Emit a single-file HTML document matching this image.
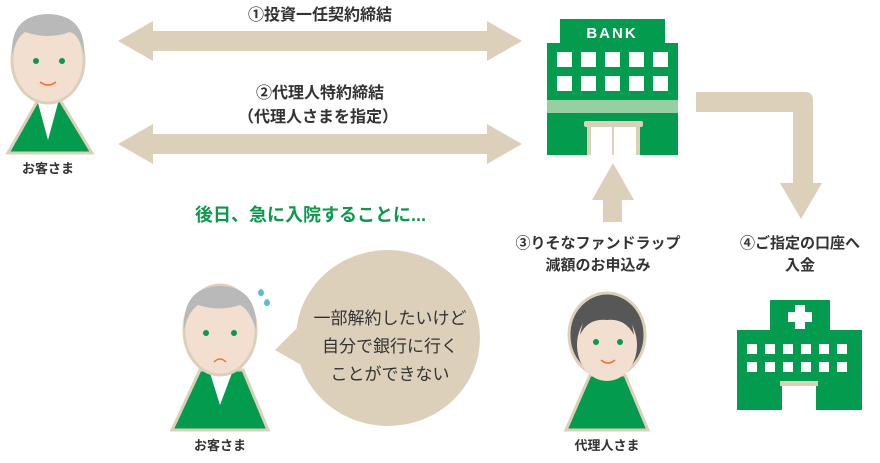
<!DOCTYPE html>
<html><head><meta charset="utf-8"><style>
body{margin:0;background:#fff;width:880px;height:458px;overflow:hidden}
svg text{font-family:"Liberation Sans","Noto Sans CJK JP",sans-serif;font-weight:bold}
</style></head><body>
<svg width="880" height="458" viewBox="0 0 880 458" xmlns="http://www.w3.org/2000/svg">
<g fill="#ddd0bb">
<polygon points="118,41 153,21 153,31 487,31 487,21 522,41 487,61 487,51 153,51 153,61"/>
<polygon points="118,144 153,124 153,134 487,134 487,124 522,144 487,164 487,154 153,154 153,164"/>
<path d="M696,92 H805 Q813,92 813,100 V183 H822 L801,219 L780,183 H793 V112 H696 Z"/>
<polygon points="603,222 603,200 592,200 613,163 634,200 622,200 622,222"/>
<ellipse cx="388" cy="338" rx="92" ry="88"/>
<polygon points="275,350 305,320 310,370"/>
</g>
<text x="320" y="20" font-size="16" text-anchor="middle" fill="#333">①投資一任契約締結</text>
<text x="320" y="98" font-size="16" text-anchor="middle" fill="#333">②代理人特約締結</text>
<text x="318" y="122" font-size="16" text-anchor="middle" fill="#333">（代理人さまを指定）</text>
<text x="195" y="221" font-size="18" fill="#0a9a4a">後日、急に入院することに...</text>
<text x="598" y="248" font-size="15" text-anchor="middle" fill="#333">③りそなファンドラップ</text>
<text x="598" y="270" font-size="15" text-anchor="middle" fill="#333">減額のお申込み</text>
<text x="800" y="248" font-size="15" text-anchor="middle" fill="#333">④ご指定の口座へ</text>
<text x="800" y="270" font-size="15" text-anchor="middle" fill="#333">入金</text>
<g font-size="17" fill="#333" text-anchor="middle">
<text x="390" y="324" style="font-weight:normal">一部解約したいけど</text>
<text x="390" y="352" style="font-weight:normal">自分で銀行に行く</text>
<text x="390" y="380" style="font-weight:normal">ことができない</text>
</g>
<text x="48" y="173" font-size="13" text-anchor="middle" fill="#333">お客さま</text>
<text x="220" y="450" font-size="13" text-anchor="middle" fill="#333">お客さま</text>
<text x="607" y="450" font-size="13" text-anchor="middle" fill="#333">代理人さま</text>
<!-- bank -->
<g>
<rect x="560" y="19" width="105" height="25" fill="#039c4f"/>
<text x="612" y="38" font-size="15" text-anchor="middle" fill="#fff" letter-spacing="2">BANK</text>
<rect x="547" y="43" width="131" height="112" fill="#039c4f"/>
<g fill="#fff">
<rect x="557" y="52" width="15" height="15"/><rect x="581" y="52" width="15" height="15"/><rect x="605" y="52" width="15" height="15"/><rect x="629" y="52" width="15" height="15"/><rect x="653" y="52" width="15" height="15"/>
<rect x="557" y="76" width="15" height="15"/><rect x="581" y="76" width="15" height="15"/><rect x="605" y="76" width="15" height="15"/><rect x="629" y="76" width="15" height="15"/><rect x="653" y="76" width="15" height="15"/>
</g>
<rect x="547" y="100" width="131" height="13" fill="#98cfa0"/>
<rect x="587" y="122" width="53" height="33" fill="#fff"/>
<rect x="584" y="121" width="59" height="6" rx="2" fill="#ddd0bb"/>
<rect x="587" y="127" width="4" height="28" fill="#ddd0bb"/><rect x="636" y="127" width="4" height="28" fill="#ddd0bb"/><rect x="612" y="127" width="2" height="28" fill="#ddd0bb"/>
</g>
<!-- hospital -->
<g>
<rect x="770" y="300" width="60" height="30" fill="#039c4f"/>
<rect x="795" y="305" width="10" height="24" fill="#fff"/><rect x="788" y="312" width="24" height="10" fill="#fff"/>
<rect x="737" y="330" width="125" height="80" fill="#039c4f"/>
<g fill="#fff">
<rect x="747" y="344" width="10" height="10"/><rect x="765" y="344" width="10" height="10"/><rect x="783" y="344" width="10" height="10"/><rect x="801" y="344" width="10" height="10"/><rect x="819" y="344" width="10" height="10"/><rect x="837" y="344" width="10" height="10"/>
<rect x="747" y="362" width="10" height="10"/><rect x="765" y="362" width="10" height="10"/><rect x="783" y="362" width="10" height="10"/><rect x="801" y="362" width="10" height="10"/><rect x="819" y="362" width="10" height="10"/><rect x="837" y="362" width="10" height="10"/>
<rect x="782" y="385" width="34" height="25"/>
</g>
<rect x="780" y="381" width="38" height="5" fill="#ddd0bb"/>
</g>
<!-- top man -->
<g stroke="#ddd0bb" stroke-width="3">
<path d="M8,153 L38,100 L60,100 L92,153 Z" fill="#039c4f"/>
<path d="M38,103 L48,140 L58,103 Z" fill="#fff" stroke="none"/>
<ellipse cx="48" cy="60" rx="36" ry="43" fill="#f3dfcf"/>
<path d="M12,55 Q10,15 48,14 Q86,15 84,55 Q80,35 70,32 Q48,40 25,32 Q16,38 12,55 Z" fill="#b9b9b9" stroke="none"/>
</g>
<circle cx="36" cy="61" r="3" fill="#039c4f"/><circle cx="62" cy="61" r="3" fill="#039c4f"/>
<path d="M40,82 Q48,88 56,82" stroke="#f07030" stroke-width="1.5" fill="none"/>
<!-- sad man -->
<g stroke="#ddd0bb" stroke-width="3">
<path d="M172,430 L200,370 L243,370 L268,430 Z" fill="#039c4f"/>
<path d="M210,373 L220,405 L232,373 Z" fill="#fff" stroke="none"/>
<ellipse cx="220" cy="330" rx="36" ry="45" fill="#f3dfcf"/>
<path d="M184,330 Q182,287 220,286 Q258,287 256,330 Q250,310 240,305 Q220,312 198,305 Q188,312 184,330 Z" fill="#b9b9b9" stroke="none"/>
</g>
<circle cx="206" cy="333" r="3" fill="#039c4f"/><circle cx="234" cy="333" r="3" fill="#039c4f"/>
<path d="M214,362 Q220,356 226,362" stroke="#f07030" stroke-width="1.5" fill="none"/>
<path d="M258,292 q3,-6 6,0 q0,4 -3,4 q-3,0 -3,-4z M264,302 q3,-6 6,0 q0,4 -3,4 q-3,0 -3,-4z" fill="#5bb8e0"/>
<!-- agent -->
<g stroke="#ddd0bb" stroke-width="3">
<path d="M566,430 L590,375 L625,375 L648,430 Z" fill="#039c4f"/>
<ellipse cx="607" cy="335" rx="38" ry="42" fill="#575757"/>
<ellipse cx="607" cy="345" rx="30" ry="36" fill="#f3dfcf" stroke="none"/>
<path d="M580,335 Q585,305 607,305 Q630,305 634,335 Q625,318 607,320 Q588,318 580,335Z" fill="#575757" stroke="none"/>
</g>
<circle cx="596" cy="342" r="3" fill="#039c4f"/><circle cx="620" cy="342" r="3" fill="#039c4f"/>
<path d="M601,360 Q608,366 615,360" stroke="#f07030" stroke-width="1.5" fill="none"/>
</svg>
</body></html>
